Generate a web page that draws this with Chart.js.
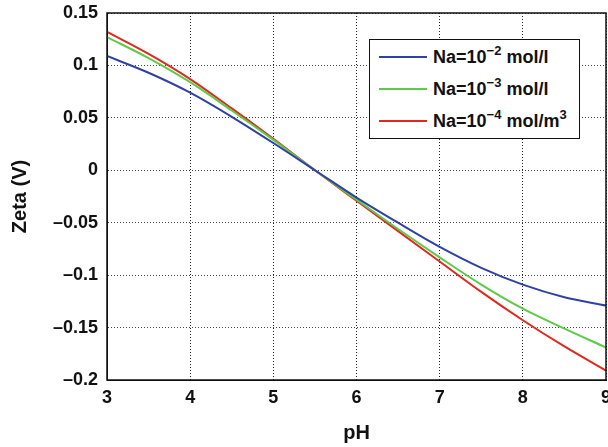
<!DOCTYPE html>
<html>
<head>
<meta charset="utf-8">
<script src="https://cdn.jsdelivr.net/npm/chart.js@4"></script>
<style>
  html,body{margin:0;padding:0;background:#fff;}
  #wrap{position:relative;width:608px;height:447px;}
  #legend{position:absolute;left:369px;top:39px;width:209px;height:98px;border:1.5px solid #111;background:#fff;
    font:bold 18px "Liberation Sans",Arial,sans-serif;color:#111;}
  #legend .row{position:absolute;left:9px;height:22px;line-height:22px;white-space:nowrap;}
  #legend .ln{display:inline-block;width:48px;height:2px;vertical-align:middle;margin-right:6px;position:relative;top:-1px;}
  #legend sup{font-size:13px;vertical-align:baseline;position:relative;top:-8px;}
</style>
</head>
<body>
<div id="wrap">
  <canvas id="c" width="608" height="447"></canvas>
  <div id="legend"></div>
</div>
<script>
  // Data
  const pH      = [3, 3.5, 4, 4.5, 5, 5.5, 6, 6.5, 7, 7.5, 8, 8.5, 9];
  const zeta_e2 = [0.109, 0.093, 0.074, 0.051, 0.026, 0, -0.026, -0.050, -0.073, -0.093, -0.109, -0.121, -0.129];
  const zeta_e3 = [0.127, 0.107, 0.084, 0.057, 0.029, 0, -0.028, -0.056, -0.083, -0.109, -0.132, -0.151, -0.169];
  const zeta_e4 = [0.132, 0.111, 0.087, 0.059, 0.030, 0, -0.029, -0.058, -0.087, -0.116, -0.143, -0.168, -0.191];
  const seriesLabels = [['Na=10','\u22122',' mol/l',''], ['Na=10','\u22123',' mol/l',''], ['Na=10','\u22124',' mol/m','3']];
  const colors = ['#2f41a6', '#5ccc48', '#e2281e'];

  const pts = ys => pH.map((x,i)=>({x, y:ys[i]}));
  const fontName = '"Liberation Sans", Arial, sans-serif';

  // box around the plot area, like matlab axes
  const boxPlugin = {
    id:'box',
    afterDatasetsDraw(chart){
      const {ctx, chartArea:a} = chart;
      ctx.save();
      ctx.strokeStyle = '#111'; ctx.lineWidth = 1.5;
      ctx.strokeRect(a.left, a.top, a.right-a.left, a.bottom-a.top);
      ctx.restore();
    }
  };

  const fmt = v => { const r = Math.round(v*1000)/1000; return (r<0 ? '\u2013' : '') + String(Math.abs(r)); };

  new Chart(document.getElementById('c'), {
    type:'line',
    data:{
      datasets:[zeta_e2, zeta_e3, zeta_e4].map((ys,i)=>({
        data: pts(ys), borderColor: colors[i], borderWidth: 2, pointRadius: 0,
        cubicInterpolationMode: 'monotone', fill:false
      }))
    },
    options:{
      responsive:false, animation:false,
      layout:{ padding:{ top:13, right:2, left:0, bottom:0 } },
      plugins:{ legend:{display:false}, tooltip:{enabled:false} },
      scales:{
        x:{
          type:'linear', min:3, max:9,
          ticks:{ stepSize:1, color:'#111', padding:7, font:{family:fontName, size:18, weight:'bold'}, maxRotation:0 },
          grid:{ color:'#222', lineWidth:1, drawTicks:false },
          border:{ display:true, color:'#111', dash:[1,2] },
          title:{ display:true, text:'pH', color:'#111', font:{family:fontName, size:20, weight:'bold'}, padding:{top:0,bottom:2} },
          afterFit(s){ s.height = 67; s.paddingLeft = 0; s.paddingRight = 0; }
        },
        y:{
          min:-0.2, max:0.15,
          ticks:{ stepSize:0.05, color:'#111', padding:9, font:{family:fontName, size:18, weight:'bold'}, callback:v=>fmt(v) },
          grid:{ color:'#444', lineWidth:1, drawTicks:false },
          border:{ display:true, color:'#111', dash:[1,2] },
          title:{ display:true, text:'Zeta (V)', color:'#111', font:{family:fontName, size:20, weight:'bold'}, padding:{top:8,bottom:0} },
          afterFit(s){ s.width = 107; s.paddingTop = 0; s.paddingBottom = 0; }
        }
      }
    },
    plugins:[boxPlugin]
  });

  // legend with superscripts
  const lg = document.getElementById('legend');
  seriesLabels.forEach((p,i)=>{
    const row = document.createElement('div');
    row.className = 'row';
    row.style.top = (6 + i*32) + 'px';
    row.innerHTML = `<span class="ln" style="background:${colors[i]}"></span>${p[0]}<sup>${p[1]}</sup>${p[2]}<sup>${p[3]}</sup>`;
    lg.appendChild(row);
  });
</script>
</body>
</html>
